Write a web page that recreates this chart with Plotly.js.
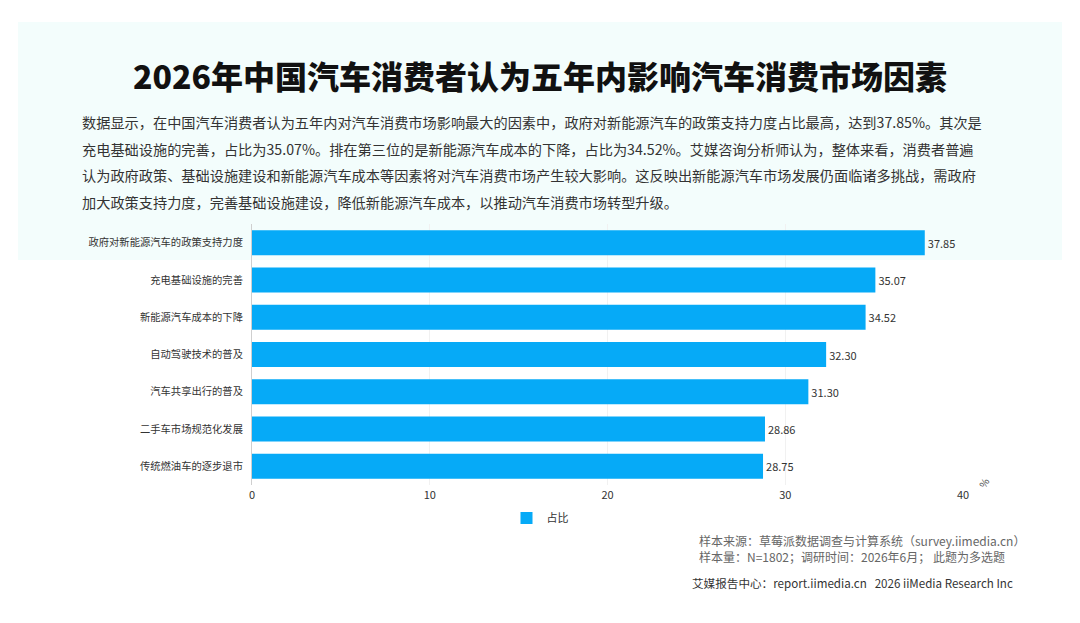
<!DOCTYPE html>
<html>
<head>
<meta charset="utf-8">
<script src="https://cdn.plot.ly/plotly-3.0.1.min.js"></script>
<style>html,body{margin:0;padding:0;background:#fff;}#chart{width:1080px;height:623px;}</style>
</head>
<body>
<div id="chart"></div>
<script>
const categories = [
  "政府对新能源汽车的政策支持力度",
  "充电基础设施的完善",
  "新能源汽车成本的下降",
  "自动驾驶技术的普及",
  "汽车共享出行的普及",
  "二手车市场规范化发展",
  "传统燃油车的逐步退市"
];
const values = [37.85, 35.07, 34.52, 32.30, 31.30, 28.86, 28.75];
const seriesName = "占比";
const titleText = "2026年中国汽车消费者认为五年内影响汽车消费市场因素";
const paragraphLines = [
  "数据显示，在中国汽车消费者认为五年内对汽车消费市场影响最大的因素中，政府对新能源汽车的政策支持力度占比最高，达到37.85%。其次是",
  "充电基础设施的完善，占比为35.07%。排在第三位的是新能源汽车成本的下降，占比为34.52%。艾媒咨询分析师认为，整体来看，消费者普遍",
  "认为政府政策、基础设施建设和新能源汽车成本等因素将对汽车消费市场产生较大影响。这反映出新能源汽车市场发展仍面临诸多挑战，需政府",
  "加大政策支持力度，完善基础设施建设，降低新能源汽车成本，以推动汽车消费市场转型升级。"
];
const sourceLines = [
  "样本来源：草莓派数据调查与计算系统（survey.iimedia.cn）",
  "样本量：N=1802；调研时间：2026年6月； 此题为多选题"
];
const footerText = "艾媒报告中心：report.iimedia.cn   2026 iiMedia Research Inc";
const xTicks = [0, 10, 20, 30, 40];

const W = 1080, H = 623;
const px = x => x / W;
const py = y => 1 - y / H;
const FONT = "Noto Sans CJK SC, Noto Sans, sans-serif";

const trace = {
  type: "bar",
  orientation: "h",
  y: categories,
  x: values,
  name: seriesName,
  marker: {color: "#06aaf7"},
  text: values.map(v => v.toFixed(2)),
  textposition: "outside",
  textfont: {size: 11, color: "#333", family: FONT},
  cliponaxis: false,
  hoverinfo: "none"
};

const annotations = [];
annotations.push({
  text: titleText, xref: "paper", yref: "paper", x: 0.5, y: py(75),
  xanchor: "center", yanchor: "middle", showarrow: false,
  font: {size: 32, color: "#111", family: FONT, weight: 900}
});
paragraphLines.forEach((t, i) => {
  annotations.push({
    text: t, xref: "paper", yref: "paper", x: px(80), y: py(122 + i * 26.5),
    xanchor: "left", yanchor: "middle", showarrow: false,
    font: {size: 14.2, color: "#333", family: FONT}
  });
});
sourceLines.forEach((t, i) => {
  annotations.push({
    text: t, xref: "paper", yref: "paper", x: px(697), y: py(540 + i * 16),
    xanchor: "left", yanchor: "middle", showarrow: false,
    font: {size: 12, color: "#666", family: FONT}
  });
});
annotations.push({
  text: footerText, xref: "paper", yref: "paper", x: px(690), y: py(583),
  xanchor: "left", yanchor: "middle", showarrow: false,
  font: {size: 11.6, color: "#333", family: FONT}
});
annotations.push({
  text: "%", xref: "paper", yref: "paper", x: px(983), y: py(483),
  xanchor: "center", yanchor: "middle", showarrow: false, textangle: -60,
  font: {size: 10, color: "#444", family: FONT}
});

const layout = {
  width: W, height: H,
  margin: {l: 0, r: 0, t: 0, b: 0},
  paper_bgcolor: "#ffffff",
  plot_bgcolor: "rgba(0,0,0,0)",
  showlegend: true,
  legend: {
    orientation: "h", x: 0.5, xanchor: "center", y: py(518), yanchor: "middle",
    font: {size: 11, color: "#333", family: FONT}, bgcolor: "rgba(0,0,0,0)"
  },
  bargap: 0.33,
  xaxis: {
    domain: [px(252), px(963)],
    range: [0, 40],
    tickvals: xTicks,
    ticktext: xTicks.map(String),
    showgrid: true, gridcolor: "#f1f1f1", gridwidth: 1,
    zeroline: false, showline: false,
    ticks: "", ticklabelstandoff: 2,
    tickfont: {size: 11, color: "#333", family: FONT},
    fixedrange: true
  },
  yaxis: {
    domain: [py(485), py(224)],
    autorange: "reversed",
    showline: true, linecolor: "#cfcfcf", linewidth: 1,
    showgrid: false, zeroline: false, ticks: "",
    ticklabelstandoff: 6,
    tickfont: {size: 10.3, color: "#333", family: FONT},
    fixedrange: true
  },
  shapes: [{
    type: "rect", xref: "paper", yref: "paper",
    x0: px(18), x1: px(1062), y0: py(260), y1: py(22),
    fillcolor: "#f3fdfc", line: {width: 0}, layer: "below"
  }],
  annotations: annotations
};

Plotly.newPlot("chart", [trace], layout, {displayModeBar: false, staticPlot: true});
</script>
</body>
</html>
